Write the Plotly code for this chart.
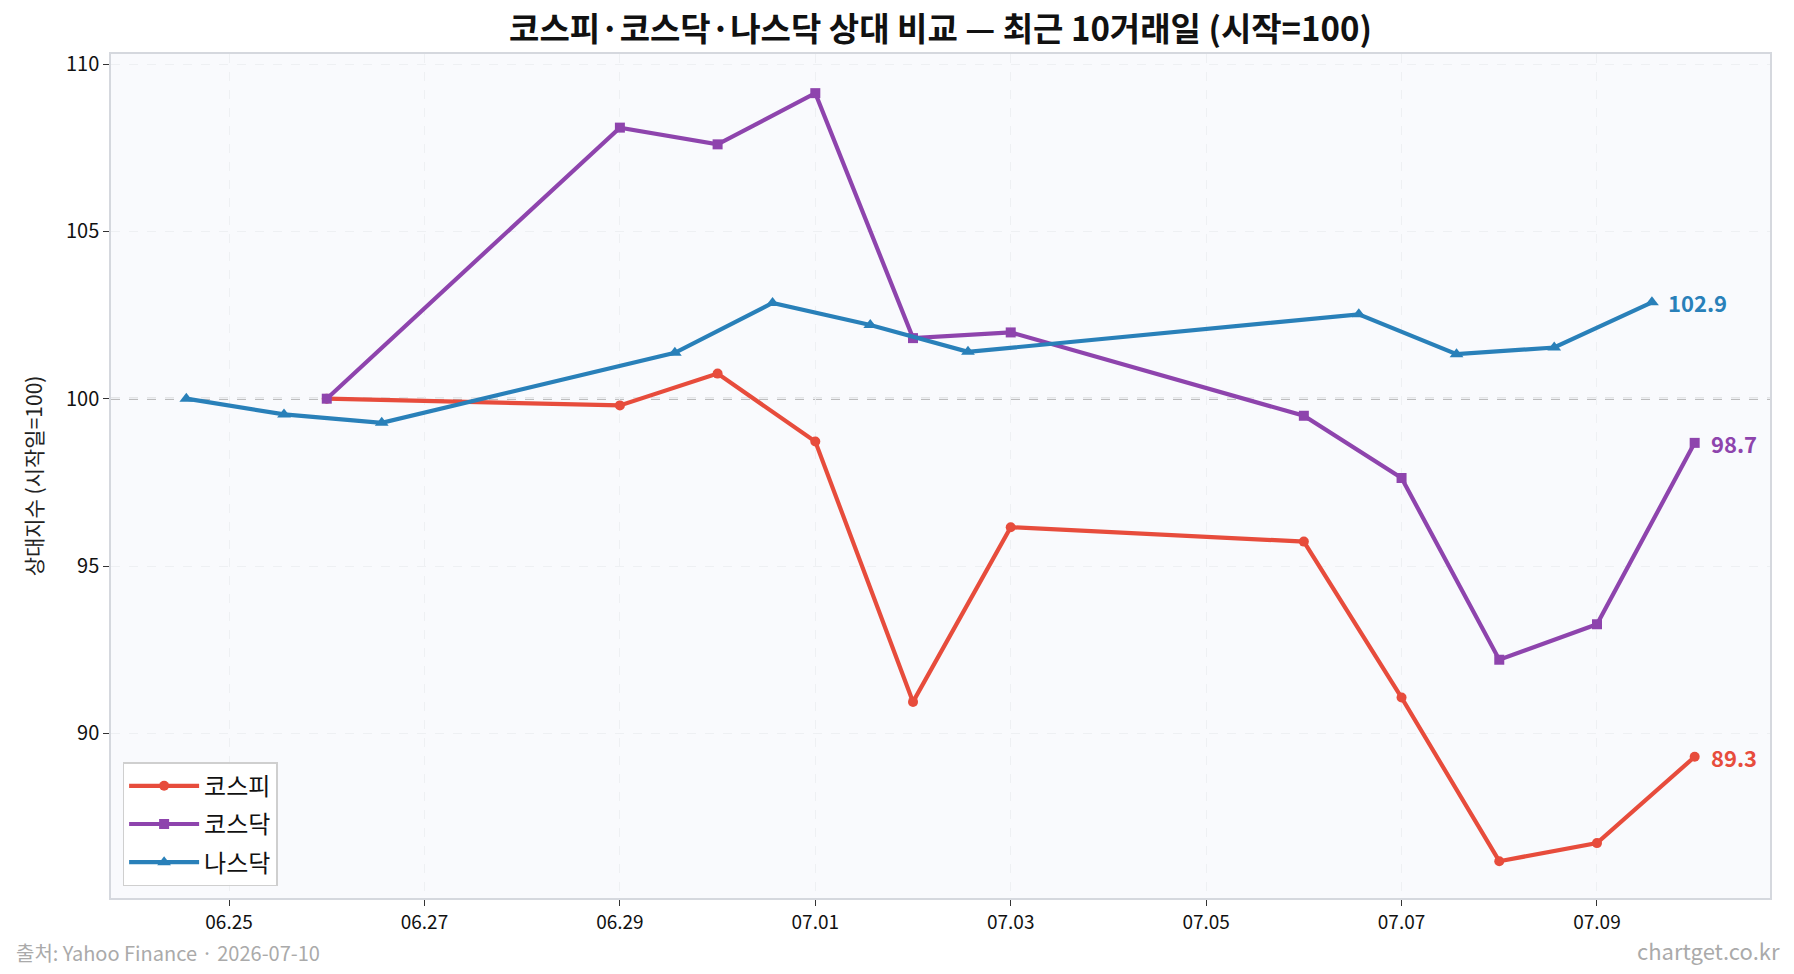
import plotly.graph_objects as go

# ---- data ----
kr_dates = ["2026-06-26", "2026-06-29", "2026-06-30", "2026-07-01", "2026-07-02",
            "2026-07-03", "2026-07-06", "2026-07-07", "2026-07-08", "2026-07-09", "2026-07-10"]
us_dates = ["2026-06-24 13:30", "2026-06-25 13:30", "2026-06-26 13:30", "2026-06-29 13:30",
            "2026-06-30 13:30", "2026-07-01 13:30", "2026-07-02 13:30", "2026-07-06 13:30",
            "2026-07-07 13:30", "2026-07-08 13:30", "2026-07-09 13:30"]
kospi = [100.0, 99.8, 100.75, 98.72, 90.94, 96.16, 95.73, 91.07, 86.18, 86.72, 89.3]
kosdaq = [100.0, 108.1, 107.6, 109.13, 101.81, 101.98, 99.49, 97.63, 92.2, 93.26, 98.68]
nasdaq = [100.0, 99.53, 99.28, 101.37, 102.86, 102.2, 101.4, 102.52, 101.33, 101.53, 102.88]

series_names = ["코스피", "코스닥", "나스닥"]
colors = ["#e74c3c", "#8e44ad", "#2980b9"]
symbols = ["circle", "square", "triangle-up"]

tick_vals = ["2026-06-25", "2026-06-27", "2026-06-29", "2026-07-01",
             "2026-07-03", "2026-07-05", "2026-07-07", "2026-07-09"]
tick_text = ["06.25", "06.27", "06.29", "07.01", "07.03", "07.05", "07.07", "07.09"]
y_ticks = [90, 95, 100, 105, 110]

title = "코스피·코스닥·나스닥 상대 비교 — 최근 10거래일 (시작=100)"
y_title = "상대지수 (시작일=100)"
source_text = "출처: Yahoo Finance · 2026-07-10"
brand_text = "chartget.co.kr"

FONT = "Noto Sans CJK KR"

fig = go.Figure()

data = [(kr_dates, kospi), (kr_dates, kosdaq), (us_dates, nasdaq)]
marker_sizes = [10, 10, 12]
for (xs, ys), name, c, s, ms in zip(data, series_names, colors, symbols, marker_sizes):
    fig.add_trace(go.Scatter(
        x=xs, y=ys, mode="lines+markers", name=name, legendgroup=name,
        line=dict(color=c, width=4.2),
        marker=dict(symbol=s, size=ms, color=c),
    ))
    fig.add_annotation(
        x=xs[-1], y=ys[-1], text=f"<b>{ys[-1]:.1f}</b>",
        showarrow=False, xanchor="left", yanchor="middle", xshift=14,
        font=dict(family=FONT, size=22, color=c),
    )

# reference line at 100
fig.add_shape(type="line", xref="paper", x0=0, x1=1, yref="y", y0=100, y1=100,
              line=dict(color="#a8a8a8", width=2, dash="dash"), layer="between")

fig.update_layout(
    width=1794, height=974,
    margin=dict(l=111, r=24, t=54, b=76),
    paper_bgcolor="white",
    plot_bgcolor="#f9fafd",
    font=dict(family=FONT, color="#222"),
    title=dict(text=f"<b>{title}</b>", x=0.5, xref="paper", xanchor="center",
               y=1 - 29 / 974, yanchor="middle",
               font=dict(family=FONT, size=33, color="#111")),
    showlegend=True,
    legend=dict(x=0.007, y=0.014, xanchor="left", yanchor="bottom",
                bgcolor="rgba(255,255,255,0.9)", bordercolor="#cfcfcf", borderwidth=1.5,
                font=dict(family=FONT, size=24, color="#111"),
                itemwidth=70, tracegroupgap=4),
)

fig.update_xaxes(
    type="date",
    range=["2026-06-23 19:00", "2026-07-10 18:30"],
    tickvals=tick_vals, ticktext=tick_text,
    ticks="outside", ticklen=6, tickcolor="#333", tickwidth=1.2,
    tickfont=dict(family=FONT, size=19, color="#111"),
    showgrid=True, gridcolor="#eef0f3", griddash="dash", gridwidth=1,
    showline=True, linecolor="#d5d8de", linewidth=1.5, mirror=True,
    zeroline=False,
)
fig.update_yaxes(
    range=[85.08, 110.3],
    tickvals=y_ticks,
    ticks="outside", ticklen=6, tickcolor="#333", tickwidth=1.2,
    tickfont=dict(family=FONT, size=20, color="#111"),
    title=dict(text=y_title, font=dict(family=FONT, size=21, color="#222"), standoff=18),
    showgrid=True, gridcolor="#eef0f3", griddash="dash", gridwidth=1,
    showline=True, linecolor="#d5d8de", linewidth=1.5, mirror=True,
    zeroline=False,
)

fig.add_annotation(xref="paper", yref="paper", x=-111 / 1659 + 14 / 1659, y=-(952 - 898) / 844,
                   text=source_text, showarrow=False, xanchor="left", yanchor="middle",
                   font=dict(family=FONT, size=20, color="#aaaaaa"))
fig.add_annotation(xref="paper", yref="paper", x=1 + (1782 - 1770) / 1659, y=-(950 - 898) / 844,
                   text=brand_text, showarrow=False, xanchor="right", yanchor="middle",
                   font=dict(family=FONT, size=22, color="#aaaaaa"))

fig.write_html("out.html")
